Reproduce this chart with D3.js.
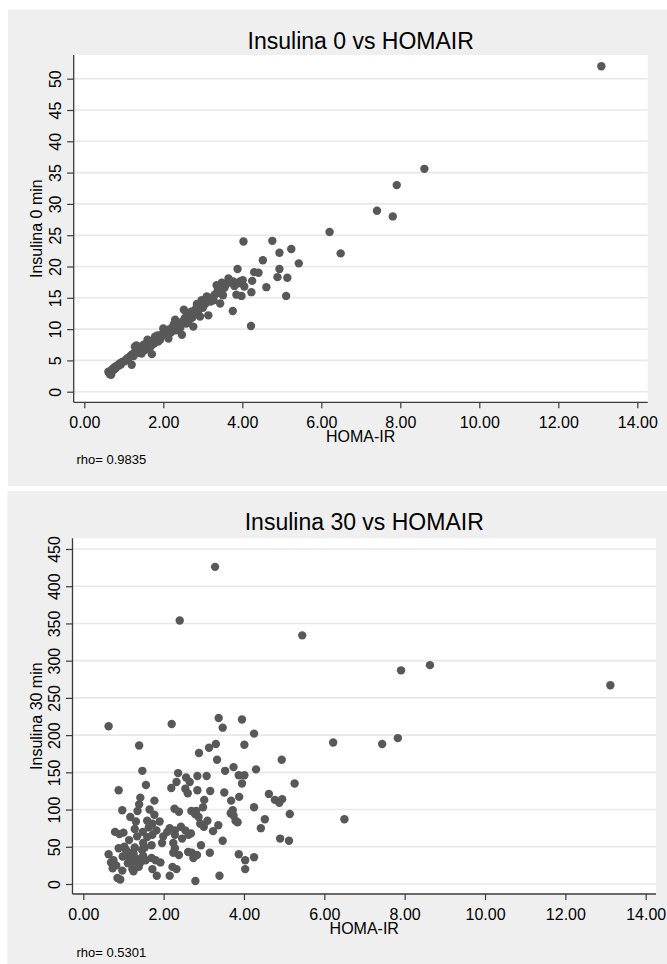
<!DOCTYPE html>
<html>
<head>
<meta charset="utf-8">
<script src="https://cdn.jsdelivr.net/npm/d3@7"></script>
<style>
  body { margin: 0; background: #ffffff; }
  svg { display: block; font-family: "Liberation Sans", Arial, sans-serif; }
</style>
</head>
<body>
<svg id="chart" width="667" height="964"></svg>
<script>
// Panel 1: Insulina 0 min vs HOMA-IR
const homa0 = [0.61, 0.63, 0.65, 0.67, 0.68, 0.70, 0.73, 0.75, 0.78, 0.80, 0.83, 0.86, 0.88, 0.90, 0.93, 0.95, 0.99, 1.02, 1.05, 1.07,
  1.10, 1.12, 1.16, 1.18, 1.20, 1.22, 1.25, 1.28, 1.30, 1.32, 1.34, 1.36, 1.38, 1.40, 1.42, 1.45, 1.48, 1.50, 1.52, 1.55,
  1.58, 1.60, 1.62, 1.65, 1.68, 1.71, 1.72, 1.75, 1.77, 1.79, 1.82, 1.85, 1.87, 1.90, 1.92, 1.95, 2.00, 2.03, 2.06, 2.10,
  2.13, 2.16, 2.18, 2.21, 2.24, 2.27, 2.30, 2.32, 2.34, 2.37, 2.40, 2.43, 2.47, 2.50, 2.52, 2.55, 2.58, 2.60, 2.63, 2.66,
  2.69, 2.72, 2.74, 2.76, 2.80, 2.83, 2.85, 2.88, 2.90, 2.93, 2.95, 2.97, 3.00, 3.03, 3.06, 3.10, 3.14, 3.16, 3.20, 3.23,
  3.27, 3.30, 3.35, 3.38, 3.41, 3.44, 3.48, 3.51, 3.55, 3.60, 3.65, 3.70, 3.76, 3.77, 3.80, 3.85, 3.88, 3.90, 3.94, 3.98,
  4.01, 4.03, 4.05, 4.22, 4.23, 4.25, 4.30, 4.41, 4.52, 4.61, 4.76, 4.89, 4.94, 4.94, 5.11, 5.14, 5.24, 5.43, 6.21, 6.49,
  7.41, 7.81, 7.91, 8.61, 13.09];
const ins0 = [3.2, 3.0, 2.8, 3.3, 2.7, 3.5, 3.7, 3.5, 4.0, 3.8, 4.1, 4.3, 4.2, 4.5, 4.4, 4.7, 4.8, 4.9, 5.0, 5.2,
  5.4, 5.3, 5.6, 5.8, 4.3, 6.0, 5.7, 7.2, 6.6, 7.4, 6.4, 6.9, 6.2, 7.0, 6.8, 6.1, 7.1, 7.5, 6.6, 7.3,
  6.9, 8.3, 7.6, 7.8, 7.2, 6.0, 8.0, 8.2, 7.7, 8.8, 8.5, 9.0, 8.0, 8.6, 8.3, 9.1, 10.1, 9.3, 9.6, 9.0,
  8.5, 10.0, 9.4, 9.6, 10.4, 10.8, 11.5, 9.8, 10.1, 10.6, 11.0, 10.2, 9.1, 11.3, 13.1, 11.8, 10.9, 12.2, 11.2, 12.6,
  11.7, 12.8, 11.9, 10.4, 12.5, 13.3, 14.0, 12.9, 13.6, 12.0, 13.8, 14.6, 13.4, 14.3, 14.0, 15.2, 12.2, 14.8, 14.4, 15.0,
  14.6, 15.5, 17.0, 16.2, 15.8, 14.1, 17.4, 15.4, 16.6, 17.2, 18.1, 17.5, 12.9, 17.6, 16.9, 15.5, 19.6, 17.3, 17.6, 15.3,
  17.8, 24.0, 16.8, 10.5, 15.9, 17.7, 19.1, 19.0, 21.0, 16.7, 24.1, 18.3, 22.2, 19.6, 15.3, 18.2, 22.8, 20.5, 25.5, 22.1,
  28.9, 28.0, 33.0, 35.6, 52.0];

// Panel 2: Insulina 30 min vs HOMA-IR
const homa30 = [3.28, 2.40, 5.45, 7.91, 8.63, 13.12, 0.63, 2.20, 3.37, 3.95, 3.47, 4.25, 6.22, 7.44, 7.83, 1.39, 3.30, 3.13, 4.01, 2.88,
  3.33, 4.94, 3.74, 3.53, 1.47, 4.30, 2.36, 3.87, 4.01, 2.56, 2.84, 3.07, 2.32, 2.65, 3.95, 5.26, 1.56, 2.19, 2.54, 2.84,
  3.16, 2.60, 3.51, 4.62, 0.88, 3.88, 1.42, 4.77, 3.01, 3.68, 1.77, 4.95, 4.88, 1.39, 4.25, 2.98, 0.97, 1.65, 2.27, 2.69,
  2.81, 3.72, 2.38, 1.35, 5.14, 3.67, 2.78, 1.77, 1.17, 3.74, 2.87, 6.50, 4.52, 3.79, 1.59, 3.09, 1.90, 1.31, 3.84, 2.91,
  1.72, 3.36, 1.63, 3.00, 2.43, 4.42, 1.28, 2.15, 2.54, 3.23, 0.79, 1.00, 1.48, 1.82, 2.09, 2.28, 2.68, 0.90, 1.72, 2.28,
  2.62, 1.34, 1.99, 2.46, 4.90, 1.59, 1.14, 3.47, 5.12, 1.49, 1.96, 2.24, 1.70, 2.93, 1.02, 1.28, 1.53, 0.88, 2.28, 1.06,
  1.46, 1.13, 1.25, 2.24, 2.61, 3.15, 2.70, 3.87, 2.38, 2.83, 0.63, 1.49, 1.14, 4.25, 0.98, 1.70, 1.32, 2.74, 1.55, 4.03,
  1.80, 0.75, 1.27, 1.92, 0.69, 1.42, 1.11, 0.82, 1.38, 2.22, 0.73, 1.22, 1.72, 2.32, 4.03, 0.97, 1.25, 1.83, 2.15, 3.39,
  0.85, 0.92, 2.79];
const ins30 = [426, 354, 334, 287, 294, 267, 212, 215, 223, 221, 210, 202, 190, 188, 196, 186, 188, 183, 187, 176,
  167, 167, 157, 152, 152, 154, 149, 146, 146, 143, 145, 145, 137, 137, 135, 135, 133, 129, 128, 126,
  125, 122, 123, 121, 126, 117, 116, 113, 113, 112, 112, 114, 109, 107, 103, 103, 99, 100, 101, 98,
  98, 99, 97, 98, 94, 95, 94, 93, 90, 92, 90, 87, 87, 85, 85, 85, 84, 84, 83, 81,
  81, 79, 76, 77, 77, 75, 74, 75, 72, 71, 70, 69, 70, 72, 70, 72, 68, 67, 66, 66,
  66, 64, 64, 61, 61, 63, 59, 58, 58, 55, 55, 55, 52, 52, 50, 49, 49, 48, 48, 46,
  46, 42, 41, 42, 43, 42, 42, 40, 39, 39, 40, 38, 36, 36, 37, 35, 34, 35, 32, 32,
  32, 32, 30, 29, 29, 29, 28, 25, 23, 23, 21, 20, 20, 20, 20, 18, 17, 11, 11, 11,
  8, 6, 4];

const xTicks = [0, 2, 4, 6, 8, 10, 12, 14];
const yTicks0 = [0, 5, 10, 15, 20, 25, 30, 35, 40, 45, 50];
const yTicks30 = [0, 50, 100, 150, 200, 250, 300, 350, 400, 450];

const svg = d3.select("#chart");

const panels = [
  {
    title: "Insulina 0 vs HOMAIR", ylabel: "Insulina 0 min", rho: "rho= 0.9835",
    xs: homa0, ys: ins0, yTicks: yTicks0, yMax: 50,
    box: { x: 8, y: 9.5, w: 659, h: 476.5 },
    plot: { left: 73.7, right: 647.7, top: 55, bottom: 402.3 },
    xRange: [84.3, 637.3], yRange: [391.7, 78.7],
    titleY: 48.5, rhoY: 463.8
  },
  {
    title: "Insulina 30 vs HOMAIR", ylabel: "Insulina 30 min", rho: "rho= 0.5301",
    xs: homa30, ys: ins30, yTicks: yTicks30, yMax: 450,
    box: { x: 7.5, y: 491, w: 659.5, h: 473 },
    plot: { left: 72.5, right: 656, top: 538.3, bottom: 894 },
    xRange: [83.3, 645.7], yRange: [884, 549],
    titleY: 530, rhoY: 957.2
  }
];

panels.forEach((p) => {
  const g = svg.append("g");
  const x = d3.scaleLinear().domain([0, 14]).range(p.xRange);
  const y = d3.scaleLinear().domain([0, p.yMax]).range(p.yRange);

  g.append("rect")
    .attr("x", p.box.x).attr("y", p.box.y)
    .attr("width", p.box.w).attr("height", p.box.h)
    .attr("fill", "#efefef");

  g.append("rect")
    .attr("x", p.plot.left).attr("y", p.plot.top)
    .attr("width", p.plot.right - p.plot.left)
    .attr("height", p.plot.bottom - p.plot.top)
    .attr("fill", "#ffffff");

  // gridlines
  g.selectAll(".grid")
    .data(p.yTicks)
    .join("line")
    .attr("class", "grid")
    .attr("x1", p.plot.left).attr("x2", p.plot.right)
    .attr("y1", (d) => y(d)).attr("y2", (d) => y(d))
    .attr("stroke", "#e8e8e8")
    .attr("stroke-width", 1.6);

  // points
  g.selectAll(".pt")
    .data(d3.range(p.xs.length))
    .join("circle")
    .attr("class", "pt")
    .attr("cx", (i) => x(p.xs[i]))
    .attr("cy", (i) => y(p.ys[i]))
    .attr("r", 4.2)
    .attr("fill", "#585858");

  // y axis
  const yAxis = g.append("g")
    .attr("transform", "translate(" + p.plot.left + ",0)")
    .call(d3.axisLeft(y).tickValues(p.yTicks).tickSize(6.5).tickSizeOuter(0).tickFormat(d3.format("d")));
  yAxis.select(".domain").remove();
  yAxis.selectAll(".tick line").attr("stroke", "#3a3a3a").attr("stroke-width", 1.2);
  yAxis.selectAll(".tick text")
    .attr("x", null).attr("dy", null)
    .attr("transform", "translate(-12.7,0) rotate(-90)")
    .attr("text-anchor", "middle")
    .attr("font-size", 16)
    .attr("fill", "#000");

  // x axis
  const xAxis = g.append("g")
    .attr("transform", "translate(0," + p.plot.bottom + ")")
    .call(d3.axisBottom(x).tickValues(xTicks).tickSize(6).tickSizeOuter(0).tickFormat(d3.format(".2f")));
  xAxis.select(".domain").remove();
  xAxis.selectAll(".tick line").attr("stroke", "#3a3a3a").attr("stroke-width", 1.2);
  xAxis.selectAll(".tick text")
    .attr("y", 26).attr("dy", null)
    .attr("font-size", 16)
    .attr("fill", "#000");

  // axis lines
  g.append("line")
    .attr("x1", p.plot.left).attr("x2", p.plot.left)
    .attr("y1", p.plot.top).attr("y2", p.plot.bottom)
    .attr("stroke", "#3a3a3a").attr("stroke-width", 1.3);
  g.append("line")
    .attr("x1", p.plot.left).attr("x2", p.plot.right)
    .attr("y1", p.plot.bottom).attr("y2", p.plot.bottom)
    .attr("stroke", "#3a3a3a").attr("stroke-width", 1.3);

  const cx = (p.plot.left + p.plot.right) / 2;

  g.append("text")
    .attr("x", cx).attr("y", p.titleY)
    .attr("text-anchor", "middle")
    .attr("font-size", 23)
    .attr("fill", "#000")
    .text(p.title);

  g.append("text")
    .attr("x", cx).attr("y", p.plot.bottom + 40)
    .attr("text-anchor", "middle")
    .attr("font-size", 16)
    .attr("fill", "#000")
    .text("HOMA-IR");

  g.append("text")
    .attr("transform", "translate(42," + (p.plot.top + p.plot.bottom) / 2 + ") rotate(-90)")
    .attr("text-anchor", "middle")
    .attr("font-size", 16)
    .attr("fill", "#000")
    .text(p.ylabel);

  g.append("text")
    .attr("x", 76.5).attr("y", p.rhoY)
    .attr("font-size", 13)
    .attr("fill", "#000")
    .text(p.rho);
});
</script>
</body>
</html>
